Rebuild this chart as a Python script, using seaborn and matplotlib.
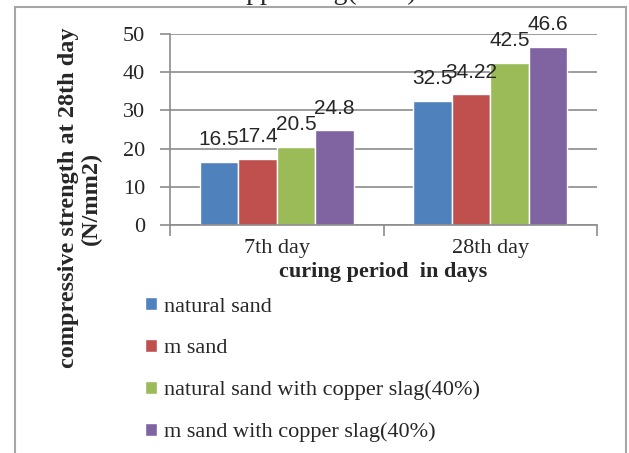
import numpy as np
import pandas as pd
import matplotlib
matplotlib.use("Agg")
import matplotlib.pyplot as plt
from matplotlib.patches import Rectangle
import seaborn as sns

periods = ["7th day", "28th day"]
mixes = ["natural sand", "m sand",
         "natural sand with copper slag(40%)", "m sand with copper slag(40%)"]
strength_7 = [16.5, 17.4, 20.5, 24.8]
strength_28 = [32.5, 34.22, 42.5, 46.6]
labels_7 = ["16.5", "17.4", "20.5", "24.8"]
labels_28 = ["32.5", "34.22", "42.5", "46.6"]
colors = ["#4F81BD", "#C0504D", "#9BBB59", "#8064A2"]

df = pd.DataFrame({
    "period": [periods[0]] * 4 + [periods[1]] * 4,
    "mix": mixes * 2,
    "strength": strength_7 + strength_28,
})

sns.set_style("white")
plt.rcParams["font.family"] = ["Liberation Serif", "DejaVu Serif"]
grey = "#8C8C8C"

fig = plt.figure(figsize=(6.29, 4.53), dpi=100)
W, H = 629, 453
ax = fig.add_axes([170 / W, 1 - 225 / H, (597 - 170) / W, (225 - 34) / H])

sns.barplot(data=df, x="period", y="strength", hue="mix", order=periods,
            hue_order=mixes, palette=colors, width=0.72, saturation=1,
            ax=ax)

# data labels, one container per hue level
for i, cont in enumerate(ax.containers):
    ax.bar_label(cont, labels=[labels_7[i], labels_28[i]], padding=9,
                 fontsize=15, family="Liberation Sans")

ax.set_ylim(0, 50)
ax.set_xlim(-0.5, 1.5)
ax.set_yticks(range(0, 51, 10))
ax.yaxis.grid(True, color=grey, lw=1.2)
ax.set_axisbelow(True)
for s in ["top", "right"]:
    ax.spines[s].set_visible(False)
for s in ["left", "bottom"]:
    ax.spines[s].set_color(grey)
    ax.spines[s].set_linewidth(1.2)

ax.tick_params(axis="y", length=7, width=1.2, color=grey, pad=11,
               labelsize=16, left=True)
ax.tick_params(axis="x", which="major", length=0, pad=10, labelsize=16)
ax.set_xticks([-0.5, 0.5, 1.5], minor=True)
ax.tick_params(axis="x", which="minor", length=8, width=1.2, color=grey,
               bottom=True)

ax.set_xlabel("curing period  in days", fontsize=16, fontweight="bold",
              labelpad=3)
ax.set_ylabel("")
fig.text(80 / W, 1 - 198 / H, "compressive strength at 28th day\n(N/mm2)",
         rotation=90, ha="center", va="center", fontsize=17.5,
         fontweight="bold", multialignment="center", linespacing=1.1)

handles, labels = ax.get_legend_handles_labels()
ax.get_legend().remove()
fig.legend(handles, labels, loc="upper left",
           bbox_to_anchor=(145 / W, 1 - 297 / H), frameon=False,
           borderpad=0, borderaxespad=0, handlelength=0.55,
           handleheight=0.55, handletextpad=0.3, labelspacing=1.0,
           fontsize=16)

# outer chart border
fig.patches.append(Rectangle((15 / W, -0.05), (626 - 15) / W,
                             1.05 - 7 / H, transform=fig.transFigure,
                             fill=False, edgecolor="#A6A6A6", lw=1.5))
# clipped caption above the chart
fig.text(417 / W, 1 + 1 / H, "with copper slag(40%)", ha="right",
         va="baseline", fontsize=20)

fig.savefig("out.png", dpi=100)
